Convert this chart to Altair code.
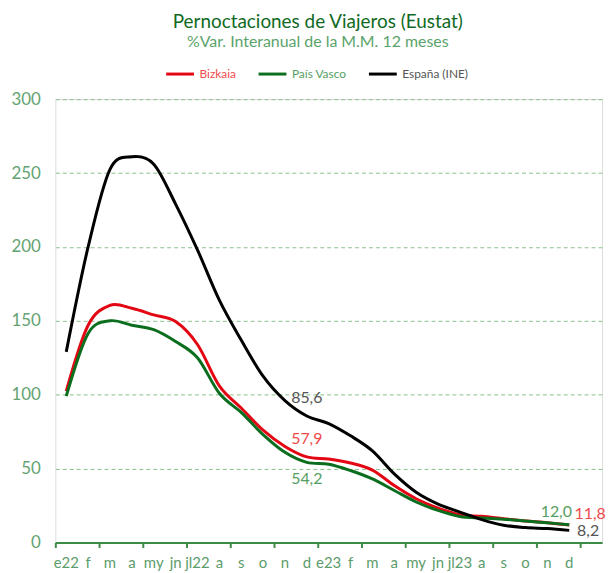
import altair as alt
import pandas as pd

months = ["e22", "f", "m", "a", "my", "jn", "jl22", "a", "s", "o", "n", "d",
          "e23", "f", "m", "a", "my", "jn", "jl23", "a", "s", "o", "n", "d"]
bizkaia = [102.4, 147, 160.5, 158.5, 154, 149.5, 134, 106, 91, 76, 65, 57.9,
           56.5, 53.8, 49, 38.5, 29.6, 23.3, 18.8, 17.7, 16.1, 14.6, 13.4, 11.8]
pais_vasco = [99, 141.5, 150, 147, 144, 136, 125, 101, 88, 73, 61, 54.2,
              53, 48.7, 43, 35.2, 27.4, 21.7, 17.6, 16.6, 15.7, 14.6, 13.3, 12.0]
espana = [129, 200, 252.5, 261, 256, 229, 198, 164, 137, 112.5, 96, 85.6,
          80.5, 72.2, 62, 46.4, 34, 26, 20.6, 15.5, 11.7, 10.1, 9.4, 8.2]
series_names = ["Bizkaia", "País Vasco", "España (INE)"]
line_colors = ["#e30613", "#0b6e1e", "#000000"]
label_colors = ["#ee4a4a", "#559e62", "#555555"]

rows = []
for name, vals in zip(series_names, [bizkaia, pais_vasco, espana]):
    for i, v in enumerate(vals):
        rows.append({"x": i + 0.5, "v": v, "serie": name, "mes": months[i]})
df = pd.DataFrame(rows)
mdf = pd.DataFrame({"x": [i + 0.5 for i in range(len(months))], "mes": months})

W, H = 550, 446
xscale = alt.Scale(domain=[0, 25], nice=False, zero=False)
yscale = alt.Scale(domain=[0, 300], nice=False)

color = alt.Color(
    "serie:N",
    scale=alt.Scale(domain=series_names, range=line_colors),
    legend=alt.Legend(
        title=None, orient="none", direction="horizontal",
        legendX=110, legendY=-41,
        symbolType="stroke", symbolStrokeWidth=3, symbolSize=784,
        labelFont="Lato", labelFontSize=12, labelFontWeight="normal",
        labelOffset=4, columnPadding=16,
        labelColor=alt.ExprRef("datum.label == 'Bizkaia' ? '#ee4a4a' : (datum.label == 'País Vasco' ? '#559e62' : '#555555')"),
    ),
    sort=series_names,
)

lines = alt.Chart(df).mark_line(strokeWidth=3, interpolate="cardinal").encode(
    x=alt.X("x:Q", scale=xscale,
            axis=alt.Axis(values=list(range(26)), labels=False, title=None, grid=False,
                          domainColor="#3c8c46", domainWidth=2, tickColor="#3c8c46",
                          tickWidth=2, tickSize=5)),
    y=alt.Y("v:Q", scale=yscale,
            axis=alt.Axis(values=[0, 50, 100, 150, 200, 250, 300], title=None, ticks=False,
                          domain=False, labelFont="Lato", labelFontSize=17,
                          labelColor="#63a372", labelPadding=15,
                          grid=True, gridColor="#8cc08c", gridDash=[4, 3], gridWidth=1)),
    color=color,
    order=alt.Order("serie:N"),
)

mlabels = alt.Chart(mdf).mark_text(font="Lato", fontSize=15, color="#5c9c6c", baseline="middle").encode(
    x=alt.X("x:Q", scale=xscale), y=alt.value(H + 21), text="mes:N"
)

def lab(vals, idx, txt, col, dx, dy):
    d = pd.DataFrame({"x": [idx + 0.5], "v": [vals[idx]], "t": [txt]})
    return alt.Chart(d).mark_text(font="Lato", fontSize=16, color=col, dx=dx, dy=dy,
                                  baseline="middle").encode(
        x=alt.X("x:Q", scale=xscale), y=alt.Y("v:Q", scale=yscale), text="t:N")

labels = [
    lab(espana, 11, "85,6", label_colors[2], 0, -18),
    lab(bizkaia, 11, "57,9", label_colors[0], 0, -18),
    lab(pais_vasco, 11, "54,2", label_colors[1], 0, 17),
    lab(pais_vasco, 23, "12,0", label_colors[1], -13, -13),
    lab(bizkaia, 23, "11,8", label_colors[0], 21, -11),
    lab(espana, 23, "8,2", label_colors[2], 19, 1),
]

chart = alt.layer(lines, mlabels, *labels).properties(
    width=W, height=H,
    title=alt.TitleParams(
        "Pernoctaciones de Viajeros (Eustat)",
        subtitle="%Var. Interanual de la M.M. 12 meses",
        font="Lato", fontSize=19, fontWeight="normal", color="#0f6a1f",
        subtitleFont="Lato", subtitleFontSize=16, subtitleColor="#5aa36a",
        subtitlePadding=3, anchor="middle", dx=-11, offset=8,
    ),
    autosize=alt.AutoSizeParams(type="none"),
    padding={"left": 47.6, "top": 90, "right": 5, "bottom": 30},
).configure_view(stroke=None).configure(font="Lato")

chart.save("out.html", embed_options={"renderer": "svg", "actions": False})
